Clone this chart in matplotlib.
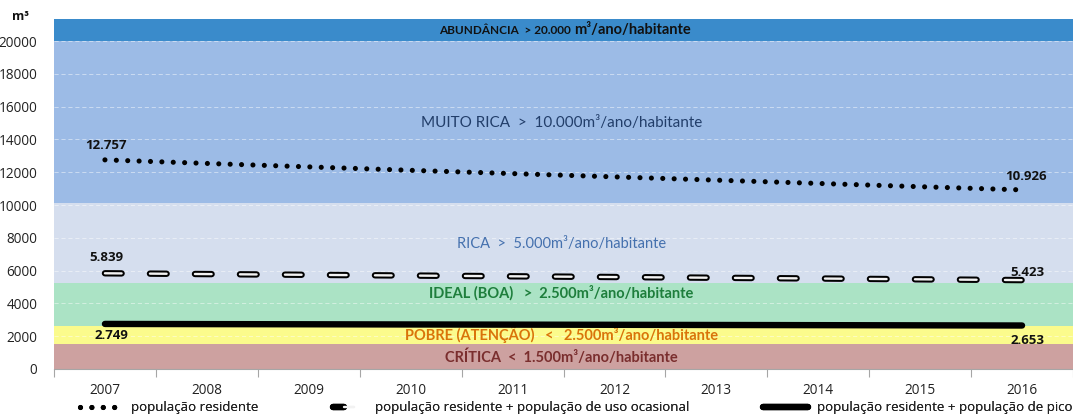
import matplotlib
matplotlib.use("Agg")
import matplotlib.pyplot as plt
from matplotlib.lines import Line2D
from matplotlib.legend_handler import HandlerTuple

plt.rcParams['lines.scale_dashes'] = False

# ---------------- data ----------------
years = ['2007', '2008', '2009', '2010', '2011', '2012', '2013', '2014', '2015', '2016']
residente = [12757, 12540, 12330, 12120, 11920, 11720, 11520, 11320, 11120, 10926]
ocasional = [5839, 5790, 5745, 5700, 5655, 5610, 5565, 5520, 5470, 5423]
pico = [2749, 2738, 2728, 2717, 2706, 2696, 2685, 2674, 2664, 2653]

# band boundaries (bottom, top) and labels
band_edges = [0, 1540, 2640, 5260, 10150, 20000, 21350]
band_colors = ['#CDA1A0', '#FBFB8C', '#ABE3C5', '#D5DEEE', '#9CBBE6', '#3A8BCB']
band_labels = [
    'CRÍTICA  <  1.500m³/ano/habitante',
    'POBRE (ATENÇÃO)   <   2.500m³/ano/habitante',
    'IDEAL (BOA)   >  2.500m³/ano/habitante',
    'RICA  >  5.000m³/ano/habitante',
    'MUITO RICA  >  10.000m³/ano/habitante',
]
band_label_y = [700, 2130, 4650, 7650, 15020]
band_label_colors = ['#7A2E2E', '#D9740A', '#1E7E3C', '#4470AE', '#223E6A']
band_label_weight = ['bold', 'bold', 'bold', 'normal', 'normal']
band_label_size = [10.5, 10.5, 10.5, 10.5, 11]
top_label_a = 'ABUNDÂNCIA  > 20.000 '
top_label_b = 'm³/ano/habitante'

series_labels = ['população residente',
                 'população residente + população de uso ocasional',
                 'população residente + população de pico']

fig = plt.figure(figsize=(10.73, 4.18), dpi=100)
ax = fig.add_axes([54 / 1073, 1 - 369 / 418, 1019 / 1073, 350 / 418])

n = len(years)
x = list(range(n))
ax.set_xlim(-0.5, n - 0.5)
ax.set_ylim(0, band_edges[-1])

for i in range(len(band_colors)):
    ax.axhspan(band_edges[i], band_edges[i + 1], color=band_colors[i], lw=0, zorder=0)

# grid lines
for v in range(2000, 20001, 2000):
    ax.axhline(v, color='white', lw=0.6, ls=(0, (3, 2)), alpha=0.55, zorder=1)

for lab, yy, c, w, s in zip(band_labels, band_label_y, band_label_colors, band_label_weight, band_label_size):
    ax.text(4.5 - 0.02, yy, lab, ha='center', va='center', color=c, fontsize=s,
            fontweight=w, family='Lato', zorder=2)
ax.text(4.6, 20650, top_label_a, ha='right', va='center', color='#111111', fontsize=8.5,
        fontweight='bold', family='Lato', zorder=2)
ax.text(4.6, 20650, top_label_b, ha='left', va='center', color='#111111', fontsize=10.5,
        fontweight='bold', family='Lato', zorder=2)

# series
dot_ls = (0, (0.001, 8.2))
dash_ls = (0, (12, 20.4))
ax.plot(x, residente, color='black', lw=3.7, ls=dot_ls,
        solid_capstyle='round', dash_capstyle='round', zorder=5)
ax.plot(x, ocasional, color='black', lw=4.6, ls=dash_ls, dash_capstyle='round', zorder=5)
ax.plot(x, ocasional, color='#f2f2f2', lw=1.7, ls=dash_ls, dash_capstyle='round', zorder=6)
ax.plot(x, pico, color='black', lw=4.6, solid_capstyle='round', zorder=5)

# data labels
lab_kw = dict(fontsize=9.5, fontweight='bold', family='Open Sans', color='#111111',
              textcoords='offset points', ha='center', zorder=7)
ax.annotate(f"{residente[0] / 1000:.3f}", (x[0], residente[0]), xytext=(1, 6), va='bottom', **lab_kw)
ax.annotate(f"{residente[-1] / 1000:.3f}", (x[-1], residente[-1]), xytext=(3, 5), va='bottom', **lab_kw)
ax.annotate(f"{ocasional[0] / 1000:.3f}", (x[0], ocasional[0]), xytext=(1, 7), va='bottom', **lab_kw)
ax.annotate(f"{ocasional[-1] / 1000:.3f}", (x[-1], ocasional[-1]), xytext=(4, 1), va='bottom', **lab_kw)
ax.annotate(f"{pico[0] / 1000:.3f}", (x[0], pico[0]), xytext=(5, -4), va='top', **lab_kw)
ax.annotate(f"{pico[-1] / 1000:.3f}", (x[-1], pico[-1]), xytext=(4, -6), va='top', **lab_kw)

# axes styling
for sp in ['top', 'right', 'left']:
    ax.spines[sp].set_visible(False)
ax.spines['bottom'].set_color('#a6a6a6')
ax.spines['bottom'].set_linewidth(0.8)

ax.set_yticks(range(0, 20001, 2000))
ax.set_yticklabels([str(v) for v in range(0, 20001, 2000)])
ax.tick_params(axis='y', length=0, pad=12, labelsize=9.8, labelcolor='#222222')
for t in ax.get_yticklabels():
    t.set_family('Open Sans')

ax.set_xticks(x)
ax.set_xticklabels(years)
ax.tick_params(axis='x', length=0, pad=10, labelsize=9.8, labelcolor='#222222')
for t in ax.get_xticklabels():
    t.set_family('Open Sans')
ax.set_xticks([i - 0.5 for i in range(n + 1)], minor=True)
ax.tick_params(axis='x', which='minor', length=6, color='#a6a6a6', width=0.8)

fig.text(12 / 1073, 1 - 17 / 418, 'm³', fontsize=9, fontweight='bold', family='Open Sans',
         ha='left', va='center', color='#111111')

# legend (three entries placed separately)
h1 = Line2D([], [], color='black', lw=3.7, ls=dot_ls, dash_capstyle='round', solid_capstyle='round')
h2a = Line2D([], [], color='black', lw=4.6, dash_capstyle='round', solid_capstyle='round')
h2b = Line2D([], [], color='#f2f2f2', lw=1.7, dash_capstyle='round', solid_capstyle='round')
h3 = Line2D([], [], color='black', lw=4.6, solid_capstyle='round')
leg_y = 1 - 408 / 418
entries = [
    (h1, series_labels[0], 80, 3.2),
    ((h2a, h2b), series_labels[1], 333, 1.6),
    (h3, series_labels[2], 763, 3.4),
]
for handle, text, px, hl in entries:
    leg = fig.legend([handle], [text], handler_map={tuple: HandlerTuple(ndivide=None, pad=0)},
                     loc='center left', bbox_to_anchor=(px / 1073, leg_y), frameon=False,
                     handlelength=hl, handletextpad=0.7 if hl > 2 else 1.6, borderpad=0, borderaxespad=0,
                     prop={'family': 'Open Sans', 'size': 9.5})
    for t in leg.get_texts():
        t.set_color('#222222')
    fig.add_artist(leg)

fig.savefig('out.png', dpi=100)
